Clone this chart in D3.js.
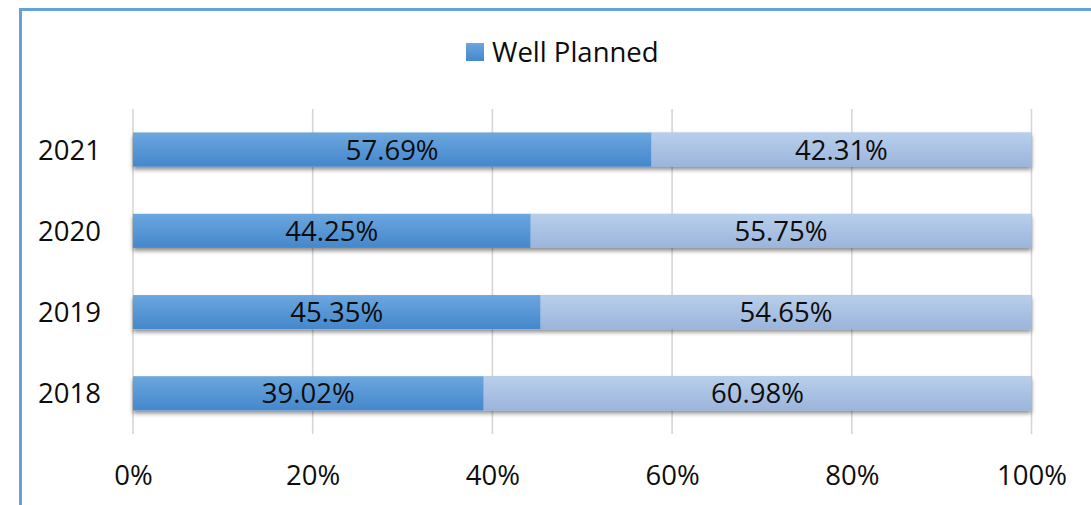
<!DOCTYPE html>
<html>
<head>
<meta charset="utf-8">
<script src="https://cdn.jsdelivr.net/npm/d3@7"></script>
<style>
  html, body { margin: 0; padding: 0; background: #fff; overflow: hidden; }
  svg { display: block; }
  text { font-family: "Open Sans", "DejaVu Sans", sans-serif; fill: #0d0d0d; }
</style>
</head>
<body>
<svg id="chart" width="1091" height="505"></svg>
<script>
const years = ["2021", "2020", "2019", "2018"];
const wellPlanned = [57.69, 44.25, 45.35, 39.02];
const notWellPlanned = [42.31, 55.75, 54.65, 60.98];
const seriesNames = ["Well Planned", "Not Well Planned"];
const tickValues = [0, 0.2, 0.4, 0.6, 0.8, 1.0];

const svg = d3.select("#chart");
const W = 1091, H = 505;
const plot = { left: 133, right: 1031.5, top: 109, bottom: 434 };
const fontSize = 27.5;

// defs: gradients and shadow
const defs = svg.append("defs");
function grad(id, top, bottom) {
  const g = defs.append("linearGradient").attr("id", id)
    .attr("x1", 0).attr("y1", 0).attr("x2", 0).attr("y2", 1);
  g.append("stop").attr("offset", "0%").attr("stop-color", top);
  g.append("stop").attr("offset", "100%").attr("stop-color", bottom);
}
grad("gDark", "#6ba7df", "#4487cb");
grad("gLight", "#b8cfeb", "#9bb4db");
const f = defs.append("filter").attr("id", "shadow")
  .attr("x", "-5%").attr("y", "-30%").attr("width", "110%").attr("height", "170%");
f.append("feDropShadow").attr("dx", 0).attr("dy", 3).attr("stdDeviation", 2.2)
  .attr("flood-color", "#000").attr("flood-opacity", 0.45);

// outer frame (cropped at right and bottom)
svg.append("rect")
  .attr("x", 20.5).attr("y", 9.5)
  .attr("width", W + 50).attr("height", H + 50)
  .attr("fill", "none").attr("stroke", "#65a2da").attr("stroke-width", 3);

// scales
const x = d3.scaleLinear().domain([0, 1]).range([plot.left, plot.right]);
const y = d3.scaleBand().domain(years).range([plot.top, plot.bottom])
  .paddingInner(0.5815).paddingOuter(0.5815 / 2);

// gridlines
svg.append("g").selectAll("line").data(tickValues).join("line")
  .attr("x1", d => x(d)).attr("x2", d => x(d))
  .attr("y1", plot.top).attr("y2", plot.bottom)
  .attr("stroke", "#d6d6d6").attr("stroke-width", 1.6);

// stacked data
const rows = years.map((yr, i) => ({ year: yr, a: wellPlanned[i], b: notWellPlanned[i] }));
const stack = d3.stack().keys(["a", "b"])
  .offset(d3.stackOffsetExpand);
const stacked = stack(rows);
const fills = ["url(#gDark)", "url(#gLight)"];

// shadow layer (whole bar)
svg.append("g").attr("filter", "url(#shadow)")
  .selectAll("rect").data(stacked[1]).join("rect")
  .attr("x", d => x(0)).attr("width", d => x(d[1]) - x(0))
  .attr("y", d => y(d.data.year)).attr("height", y.bandwidth())
  .attr("fill", "#9bb4db");

const layers = svg.append("g").selectAll("g").data(stacked).join("g")
  .attr("fill", (d, i) => fills[i]);
layers.selectAll("rect").data(d => d).join("rect")
  .attr("x", d => x(d[0]))
  .attr("width", d => x(d[1]) - x(d[0]))
  .attr("y", d => y(d.data.year))
  .attr("height", y.bandwidth());

// bar labels
const values = [wellPlanned, notWellPlanned];
stacked.forEach((layer, li) => {
  svg.append("g").selectAll("text").data(layer).join("text")
    .attr("x", d => (x(d[0]) + x(d[1])) / 2)
    .attr("y", d => y(d.data.year) + y.bandwidth() / 2)
    .attr("dy", "0.36em")
    .attr("text-anchor", "middle")
    .style("font-size", fontSize + "px")
    .text((d, i) => values[li][i].toFixed(2) + "%");
});

// x axis
const xAxis = svg.append("g").attr("transform", `translate(0,${plot.bottom})`)
  .call(d3.axisBottom(x).tickValues(tickValues).tickSize(0).tickFormat(d3.format(".0%")));
xAxis.select(".domain").remove();
xAxis.selectAll("text").attr("y", 51).attr("dy", 0)
  .attr("font-family", null).attr("font-size", null)
  .style("font-size", fontSize + "px").style("fill", "#0d0d0d");

// y axis
const yAxis = svg.append("g").attr("transform", `translate(${plot.left},0)`)
  .call(d3.axisLeft(y).tickSize(0));
yAxis.select(".domain").remove();
yAxis.selectAll("text").attr("x", -32).attr("dy", "0.36em")
  .attr("font-family", null).attr("font-size", null)
  .style("font-size", fontSize + "px").style("fill", "#0d0d0d");

// legend (first series only)
const lg = svg.append("g").attr("transform", "translate(466,43)");
lg.append("rect").attr("width", 18).attr("height", 18).attr("fill", "url(#gDark)");
lg.append("text").attr("x", 26).attr("y", 9).attr("dy", "0.36em")
  .style("font-size", fontSize + "px").text(seriesNames[0]);
</script>
</body>
</html>
